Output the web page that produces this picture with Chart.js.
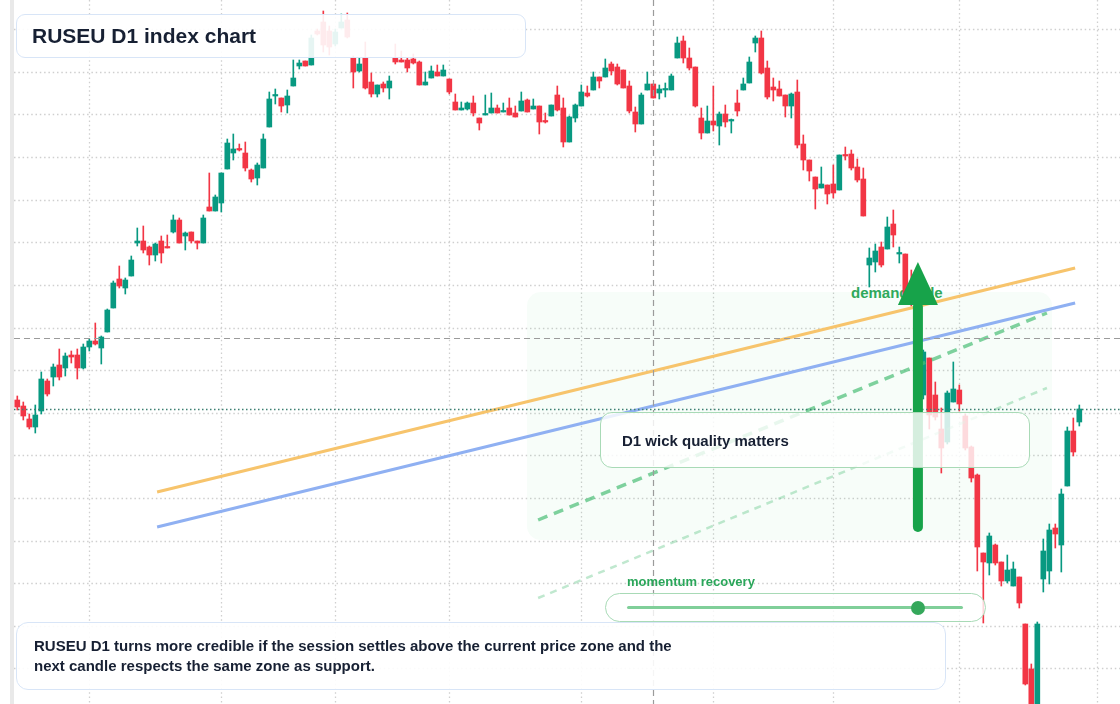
<!DOCTYPE html>
<html>
<head>
<meta charset="utf-8">
<script src="https://cdn.jsdelivr.net/npm/chart.js@4.4.1/dist/chart.umd.min.js"></script>
<style>
  html, body { margin: 0; padding: 0; background: #fff; }
  body { width: 1120px; height: 704px; position: relative; overflow: hidden; font-family: "Liberation Sans", Arial, sans-serif; }
  .strip { position: absolute; left: 10px; top: 0; width: 4px; height: 704px; background: #e9e9e9; }
  .chartWrap { position: absolute; left: 14px; top: 0; width: 1106px; height: 704px; z-index: 1; }
  .label { position: absolute; font-weight: bold; }
  .box { position: absolute; box-sizing: border-box; background: rgba(255,255,255,0.9); z-index: 2; }
  #title { left: 16px; top: 14px; width: 510px; height: 44px; border: 1.5px solid #d8e5f7; border-radius: 9px;
           display: flex; align-items: center; padding-left: 15px; font-size: 21px; font-weight: bold; color: #172033; }
  #note { left: 16px; top: 622px; width: 930px; height: 68px; border: 1.5px solid #d8e5f7; border-radius: 12px;
          display: flex; align-items: center; padding-left: 17px; font-size: 15px; line-height: 20px; font-weight: bold; color: #172033; }
  #wick { left: 600px; top: 412px; width: 430px; height: 56px; border: 1.5px solid #a8dab6; border-radius: 12px;
          background: rgba(255,255,255,0.82); display: flex; align-items: center; padding-left: 21px;
          font-size: 15px; font-weight: bold; color: #172033; }
  #pill { left: 605px; top: 593px; width: 381px; height: 29px; border: 1.5px solid #a8dab6; border-radius: 15px; background: rgba(255,255,255,0.8); }
  #track { position: absolute; left: 627px; top: 606px; width: 336px; height: 3px; background: #80cf99; border-radius: 2px; z-index: 3; }
  #knob { position: absolute; left: 911px; top: 601px; width: 14px; height: 14px; background: #35a85b; border-radius: 50%; z-index: 4; }
  #momentum { left: 627px; top: 574px; font-size: 13px; color: #2aa65a; z-index: 2; }
  #demand { left: 851px; top: 284.5px; font-size: 15px; line-height: 15px; color: #2fa85c; z-index: 0; }
</style>
</head>
<body>
<div class="strip"></div>
<div class="label" id="demand">demand side</div>
<div class="chartWrap"><canvas id="chart"></canvas></div>
<div class="box" id="title">RUSEU D1 index chart</div>
<div class="box" id="wick">D1 wick quality matters</div>
<div class="label" id="momentum">momentum recovery</div>
<div class="box" id="pill"></div>
<div id="track"></div>
<div id="knob"></div>
<div class="box" id="note">RUSEU D1 turns more credible if the session settles above the current price zone and the<br>next candle respects the same zone as support.</div>

<script>
// daily candles, index points
const candleOpen = [
  1012, 1006, 993, 985, 1001, 1031, 1035, 1047, 1044, 1057,
  1057, 1044, 1065, 1071, 1064, 1080, 1104, 1133, 1124, 1136,
  1169, 1171, 1165, 1157, 1171, 1165, 1180, 1192, 1176, 1180,
  1171, 1169, 1205, 1201, 1209, 1243, 1259, 1263, 1259, 1242,
  1234, 1244, 1285, 1316, 1314, 1307, 1326, 1346, 1351, 1347,
  1381, 1390, 1381, 1368, 1384, 1392, 1354, 1341, 1354, 1330,
  1318, 1328, 1324, 1354, 1352, 1352, 1353, 1350, 1327, 1334,
  1340, 1336, 1333, 1310, 1302, 1303, 1309, 1294, 1297, 1299,
  1304, 1300, 1304, 1299, 1301, 1312, 1303, 1306, 1291, 1296,
  1317, 1304, 1270, 1294, 1306, 1319, 1322, 1335, 1335, 1348,
  1345, 1342, 1326, 1300, 1288, 1322, 1328, 1319, 1322, 1322,
  1354, 1371, 1354, 1345, 1294, 1279, 1291, 1286, 1298, 1291,
  1309, 1322, 1329, 1369, 1374, 1344, 1325, 1323, 1317, 1306,
  1320, 1268, 1252, 1235, 1224, 1227, 1228, 1222, 1257, 1258,
  1245, 1233, 1147, 1150, 1165, 1163, 1188, 1158, 1158, 1117,
  1108, 1017, 1054, 1017, 983, 970, 1010, 1022, 996, 965,
  937, 859, 849, 867, 850, 831, 826, 835, 788, 743,
  695, 833, 841, 884, 867, 926, 981, 990
];
const candleHigh = [
  1016, 1010, 998, 1007, 1040, 1033, 1048, 1063, 1059, 1061,
  1063, 1068, 1073, 1089, 1076, 1103, 1131, 1146, 1134, 1156,
  1184, 1186, 1166, 1169, 1176, 1177, 1197, 1194, 1180, 1180,
  1171, 1197, 1239, 1217, 1239, 1273, 1278, 1268, 1270, 1243,
  1249, 1278, 1320, 1323, 1314, 1322, 1352, 1352, 1351, 1377,
  1383, 1401, 1386, 1383, 1398, 1399, 1356, 1354, 1370, 1339,
  1327, 1330, 1336, 1368, 1361, 1354, 1358, 1351, 1340, 1346,
  1347, 1347, 1333, 1318, 1310, 1310, 1316, 1294, 1317, 1319,
  1307, 1309, 1314, 1306, 1320, 1313, 1313, 1306, 1299, 1307,
  1326, 1314, 1296, 1308, 1327, 1326, 1340, 1335, 1353, 1350,
  1348, 1342, 1331, 1305, 1319, 1340, 1328, 1327, 1329, 1338,
  1375, 1376, 1364, 1345, 1304, 1306, 1326, 1300, 1307, 1293,
  1322, 1334, 1355, 1376, 1381, 1351, 1334, 1331, 1317, 1319,
  1332, 1277, 1252, 1235, 1245, 1227, 1247, 1257, 1265, 1262,
  1253, 1244, 1164, 1168, 1170, 1195, 1202, 1165, 1158, 1142,
  1110, 1062, 1054, 1030, 1004, 1021, 1050, 1027, 998, 966,
  938, 859, 879, 868, 850, 857, 850, 835, 788, 748,
  790, 873, 888, 888, 923, 985, 994, 1007
];
const candleLow = [
  1002, 992, 983, 979, 998, 1016, 1026, 1032, 1036, 1049,
  1033, 1043, 1061, 1067, 1048, 1080, 1104, 1124, 1118, 1136,
  1166, 1159, 1147, 1151, 1149, 1164, 1179, 1169, 1162, 1169,
  1163, 1169, 1201, 1201, 1200, 1243, 1252, 1261, 1241, 1230,
  1227, 1244, 1285, 1308, 1300, 1299, 1326, 1343, 1346, 1347,
  1377, 1360, 1357, 1366, 1384, 1374, 1324, 1340, 1323, 1315,
  1315, 1320, 1313, 1348, 1350, 1340, 1348, 1327, 1327, 1334,
  1336, 1336, 1318, 1302, 1302, 1302, 1296, 1282, 1297, 1299,
  1299, 1300, 1297, 1295, 1301, 1300, 1303, 1278, 1289, 1296,
  1301, 1265, 1270, 1290, 1306, 1315, 1322, 1324, 1335, 1337,
  1327, 1324, 1299, 1280, 1288, 1322, 1314, 1313, 1315, 1322,
  1354, 1349, 1342, 1305, 1273, 1279, 1281, 1267, 1285, 1279,
  1296, 1322, 1329, 1360, 1338, 1313, 1311, 1316, 1295, 1294,
  1264, 1242, 1231, 1203, 1224, 1208, 1214, 1222, 1252, 1242,
  1230, 1196, 1125, 1140, 1145, 1163, 1165, 1149, 1112, 1106,
  1007, 1013, 983, 992, 939, 968, 1010, 1001, 962, 930,
  841, 789, 837, 847, 826, 829, 826, 804, 727, 695,
  690, 820, 828, 864, 840, 926, 956, 986
];
const candleClose = [
  1005, 996, 985, 997, 1033, 1018, 1045, 1035, 1056, 1055,
  1044, 1065, 1071, 1068, 1075, 1102, 1129, 1126, 1132, 1152,
  1171, 1162, 1157, 1168, 1159, 1164, 1192, 1169, 1179, 1171,
  1169, 1194, 1201, 1215, 1239, 1269, 1263, 1262, 1244, 1233,
  1247, 1273, 1313, 1317, 1306, 1316, 1334, 1349, 1346, 1374,
  1378, 1367, 1365, 1380, 1390, 1375, 1340, 1348, 1324, 1318,
  1327, 1324, 1331, 1350, 1350, 1344, 1349, 1327, 1330, 1341,
  1336, 1342, 1320, 1302, 1304, 1309, 1299, 1289, 1298, 1304,
  1299, 1301, 1297, 1295, 1311, 1300, 1306, 1290, 1290, 1307,
  1302, 1270, 1295, 1307, 1320, 1316, 1335, 1331, 1344, 1341,
  1328, 1324, 1301, 1288, 1317, 1328, 1314, 1323, 1323, 1336,
  1369, 1354, 1344, 1306, 1279, 1291, 1287, 1298, 1290, 1292,
  1301, 1328, 1350, 1374, 1339, 1315, 1322, 1316, 1306, 1318,
  1267, 1252, 1241, 1223, 1228, 1218, 1219, 1257, 1256, 1244,
  1232, 1196, 1154, 1161, 1147, 1185, 1177, 1159, 1117, 1110,
  1014, 1060, 997, 995, 964, 1019, 1023, 1008, 964, 934,
  865, 850, 876, 849, 831, 842, 843, 809, 728, 700,
  788, 861, 882, 878, 918, 981, 960, 1003
];

// month boundaries (candle index) and horizontal grid levels
const monthTicks = [12, 34, 53, 72, 94, 116, 136, 157, 180];
const priceGrid = [1382.7, 1340.1, 1297.5, 1254.9, 1212.3, 1169.7, 1127.1, 1084.5, 1041.9, 999.3, 956.7, 914.1, 871.5, 828.9, 786.3, 743.7];

// drawn annotations: [x index, price]
const orangeLine = [[23.3, 920], [176.3, 1144]];
const blueLine = [[23.3, 885], [176.3, 1109]];
const greenDash = [[86.8, 892], [171.6, 1099]];
const faintDash = [[86.8, 814], [171.6, 1024]];
const demandZone = { x0: 84.95, x1: 172.45, top: 1120, bottom: 872 };
const arrow = { x: 150.1, base: 885, head: 1107, tip: 1150 };
const crosshair = { x: 106, price: 1074 };
const lastPrice = candleClose[candleClose.length - 1];

const GREEN = '#089981';
const RED = '#f23645';

const idx = candleOpen.map((_, i) => i);
const colors = idx.map((i) => (candleClose[i] >= candleOpen[i] ? GREEN : RED));
const bodies = idx.map((i) => ({ x: i, y: [candleOpen[i], candleClose[i]] }));
const wicks = idx.map((i) => ({ x: i, y: [candleLow[i], candleHigh[i]] }));
const toPts = (arr) => arr.map(([x, y]) => ({ x, y }));

const overlayPlugin = {
  id: 'overlay',
  beforeDatasetsDraw(chart) {
    const { ctx, chartArea: a, scales: { x, y } } = chart;
    ctx.save();
    // grid
    ctx.strokeStyle = '#cfcfcf';
    ctx.lineWidth = 1.3;
    ctx.setLineDash([1.5, 2.8]);
    priceGrid.forEach((p) => {
      const py = Math.round(y.getPixelForValue(p)) + 0.5;
      ctx.beginPath(); ctx.moveTo(a.left, py); ctx.lineTo(a.right, py); ctx.stroke();
    });
    monthTicks.forEach((m) => {
      const px = Math.round(x.getPixelForValue(m)) + 0.5;
      ctx.beginPath(); ctx.moveTo(px, a.top); ctx.lineTo(px, a.bottom); ctx.stroke();
    });
    ctx.setLineDash([]);
    // demand zone
    const zx0 = x.getPixelForValue(demandZone.x0);
    const zx1 = x.getPixelForValue(demandZone.x1);
    const zy0 = y.getPixelForValue(demandZone.top);
    const zy1 = y.getPixelForValue(demandZone.bottom);
    ctx.fillStyle = 'rgba(34,197,94,0.035)';
    ctx.beginPath();
    ctx.roundRect(zx0, zy0, zx1 - zx0, zy1 - zy0, 14);
    ctx.fill();
    ctx.restore();
  },
  afterDatasetsDraw(chart) {
    const { ctx, chartArea: a, scales: { x, y } } = chart;
    ctx.save();
    // crosshair
    ctx.strokeStyle = '#9b9b9b';
    ctx.lineWidth = 1.2;
    ctx.setLineDash([6, 4]);
    const cx = Math.round(x.getPixelForValue(crosshair.x)) + 0.5;
    const cy = Math.round(y.getPixelForValue(crosshair.price)) + 0.5;
    ctx.beginPath(); ctx.moveTo(cx, a.top); ctx.lineTo(cx, a.bottom); ctx.stroke();
    ctx.beginPath(); ctx.moveTo(a.left, cy); ctx.lineTo(a.right, cy); ctx.stroke();
    // last price line
    ctx.strokeStyle = '#3c7f72';
    ctx.lineWidth = 1.3;
    ctx.setLineDash([1.5, 2.5]);
    const lp = Math.round(y.getPixelForValue(lastPrice)) + 0.5;
    ctx.beginPath(); ctx.moveTo(a.left, lp); ctx.lineTo(a.right, lp); ctx.stroke();
    ctx.setLineDash([]);
    // arrow
    const ax = x.getPixelForValue(arrow.x);
    const aBase = y.getPixelForValue(arrow.base);
    const aHead = y.getPixelForValue(arrow.head);
    const aTip = y.getPixelForValue(arrow.tip);
    ctx.strokeStyle = '#17a34a';
    ctx.fillStyle = '#17a34a';
    ctx.lineWidth = 10;
    ctx.lineCap = 'round';
    ctx.beginPath(); ctx.moveTo(ax, aBase); ctx.lineTo(ax, aHead + 2); ctx.stroke();
    ctx.beginPath();
    ctx.moveTo(ax - 20, aHead); ctx.lineTo(ax + 20, aHead); ctx.lineTo(ax, aTip);
    ctx.closePath(); ctx.fill();
    ctx.restore();
  },
};

new Chart(document.getElementById('chart'), {
  type: 'bar',
  data: {
    datasets: [
      { type: 'line', data: toPts(orangeLine), borderColor: '#f7c46c', borderWidth: 3, pointRadius: 0, order: 0 },
      { type: 'line', data: toPts(blueLine), borderColor: '#8fb0f2', borderWidth: 3, pointRadius: 0, order: 0 },
      { type: 'line', data: toPts(greenDash), borderColor: 'rgba(74,190,118,0.7)', borderWidth: 3.5, borderDash: [10, 7], pointRadius: 0, order: 0 },
      { type: 'line', data: toPts(faintDash), borderColor: 'rgba(74,190,118,0.35)', borderWidth: 2.5, borderDash: [7, 6], pointRadius: 0, order: 0 },
      { data: bodies, backgroundColor: colors, barThickness: 5, minBarLength: 1.5, grouped: false, order: 1 },
      { data: wicks, backgroundColor: colors, barThickness: 1, grouped: false, order: 2 },
    ],
  },
  options: {
    responsive: true,
    maintainAspectRatio: false,
    animation: false,
    layout: { padding: 0 },
    plugins: { legend: { display: false }, tooltip: { enabled: false } },
    scales: {
      x: { type: 'linear', min: -0.55, max: 183.78, offset: false, bounds: 'data', display: false },
      y: { min: 708, max: 1412, display: false },
    },
  },
  plugins: [overlayPlugin],
});
</script>
</body>
</html>
